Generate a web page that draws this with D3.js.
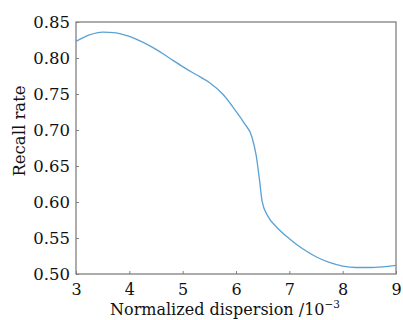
<!DOCTYPE html>
<html>
<head>
<meta charset="utf-8">
<script src="https://cdn.jsdelivr.net/npm/d3@7"></script>
<style>
  html, body { margin: 0; padding: 0; background: #fff; }
  svg { display: block; font-family: "DejaVu Serif", "Liberation Serif", serif; }
</style>
</head>
<body>
<div id="chart"></div>
<script>
const dispersion = [3.0, 3.25, 3.5, 3.75, 4.0, 4.25, 4.5, 4.75, 5.0, 5.25, 5.5, 5.75, 6.0, 6.15, 6.3, 6.38, 6.44, 6.49, 6.6, 6.75, 7.0, 7.25, 7.5, 7.75, 8.0, 8.25, 8.5, 8.75, 9.0];
const recall = [0.823, 0.832, 0.836, 0.835, 0.830, 0.822, 0.812, 0.800, 0.788, 0.777, 0.766, 0.750, 0.726, 0.710, 0.690, 0.664, 0.631, 0.601, 0.580, 0.566, 0.549, 0.535, 0.524, 0.516, 0.511, 0.509, 0.509, 0.510, 0.512];
const xTicks = [3, 4, 5, 6, 7, 8, 9];
const yTicks = [0.50, 0.55, 0.60, 0.65, 0.70, 0.75, 0.80, 0.85];

const W = 403, H = 320;
const M = { top: 22, right: 7, bottom: 46, left: 76 };
const FRAME = '#808080';
const FONT = '"DejaVu Serif", serif';
const FS = '16.5px';

const svg = d3.select('#chart').append('svg')
  .attr('width', W)
  .attr('height', H);

const x = d3.scaleLinear().domain([3, 9]).range([M.left, W - M.right]);
const y = d3.scaleLinear().domain([0.5, 0.85]).range([H - M.bottom, M.top]);

// ticks point into the plot
const gx = svg.append('g')
  .attr('transform', `translate(0,${H - M.bottom})`)
  .call(d3.axisBottom(x).tickValues(xTicks).tickFormat(d3.format('d'))
    .tickSizeInner(-3).tickSizeOuter(0).tickPadding(10));

const gy = svg.append('g')
  .attr('transform', `translate(${M.left},0)`)
  .call(d3.axisLeft(y).tickValues(yTicks).tickFormat(d3.format('.2f'))
    .tickSizeInner(-3).tickSizeOuter(0).tickPadding(6));

[gx, gy].forEach((g) => {
  g.select('.domain').remove();
  g.selectAll('line').attr('stroke', FRAME);
  g.selectAll('text')
    .attr('fill', '#111')
    .style('font-size', FS)
    .style('font-family', FONT);
});
gx.selectAll('text').style('font-size', '16px');

svg.append('rect')
  .attr('x', M.left)
  .attr('y', M.top)
  .attr('width', W - M.right - M.left)
  .attr('height', H - M.bottom - M.top)
  .attr('fill', 'none')
  .attr('stroke', FRAME)
  .attr('stroke-width', 1.3);

const line = d3.line()
  .x((d, i) => x(dispersion[i]))
  .y((d) => y(d))
  .curve(d3.curveMonotoneX);

svg.append('path')
  .datum(recall)
  .attr('fill', 'none')
  .attr('stroke', '#5aa2d4')
  .attr('stroke-width', 1.3)
  .attr('d', line);

const xTitle = svg.append('text')
  .attr('x', 110)
  .attr('y', 315)
  .style('font-size', '16px')
  .attr('fill', '#111')
  .text('Normalized dispersion /10');
xTitle.append('tspan')
  .attr('dy', -7)
  .style('font-size', '10.5px')
  .text('\u22123');

svg.append('text')
  .attr('transform', 'translate(25,131) rotate(-90)')
  .attr('text-anchor', 'middle')
  .style('font-size', FS)
  .attr('fill', '#111')
  .text('Recall rate');
</script>
</body>
</html>
